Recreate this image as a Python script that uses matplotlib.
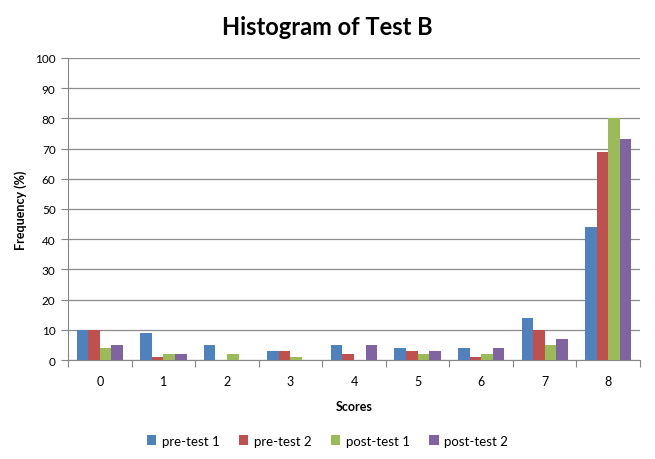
import numpy as np
import matplotlib
matplotlib.use('Agg')
import matplotlib.pyplot as plt

plt.rcParams['font.family'] = ['Lato', 'DejaVu Sans']

# 数据
scores = ['0', '1', '2', '3', '4', '5', '6', '7', '8']
pre_test_1 = [10, 9, 5, 3, 5, 4, 4, 14, 44]
pre_test_2 = [10, 1, 0, 3, 2, 3, 1, 10, 69]
post_test_1 = [4, 2, 2, 1, 0, 2, 2, 5, 80]
post_test_2 = [5, 2, 0, 0, 5, 3, 4, 7, 73]

series = [
    ('pre-test 1', pre_test_1, '#4F81BD'),
    ('pre-test 2', pre_test_2, '#C0504D'),
    ('post-test 1', post_test_1, '#9BBB59'),
    ('post-test 2', post_test_2, '#8064A2'),
]

fig = plt.figure(figsize=(6.55, 4.6), dpi=100)
ax = fig.add_axes([0.104, 0.215, 0.873, 0.657])

x = np.arange(len(scores))
w = 1 / 5.5
for i, (name, vals, color) in enumerate(series):
    ax.bar(x + (i - 1.5) * w, vals, width=w, color=color, label=name, zorder=3)

ax.set_xlim(-0.5, len(scores) - 0.5)
ax.set_ylim(0, 100)
ax.set_yticks(range(0, 101, 10))
ax.yaxis.grid(True, color='#8c8c8c', linewidth=0.9, zorder=0)

# x轴刻度线在类别之间
ax.set_xticks(np.arange(-0.5, len(scores)), minor=False)
ax.set_xticklabels([])
ax.set_xticks(x, minor=True)
ax.set_xticklabels(scores, minor=True, fontsize=9)
ax.tick_params(axis='x', which='major', length=5, color='#868686', direction='out')
ax.tick_params(axis='x', which='minor', length=0, pad=11)
ax.tick_params(axis='y', length=5, color='#868686', labelsize=8.5, pad=4)

for side in ['top', 'right']:
    ax.spines[side].set_visible(False)
ax.spines['left'].set_color('#868686')
ax.spines['bottom'].set_color('#868686')

ax.set_xlabel('Scores', fontsize=9, fontweight='bold', labelpad=9)
ax.set_ylabel('Frequency (%)', fontsize=9, fontweight='bold', labelpad=6)
fig.suptitle('Histogram of Test B', fontsize=17, fontweight='bold', y=0.965)

fig.legend(loc='center', bbox_to_anchor=(0.5, 0.04), ncol=4, frameon=False,
           fontsize=9.5, handlelength=0.7, handleheight=0.7, handletextpad=0.4,
           columnspacing=1.5)

fig.savefig('out.png', dpi=100)
